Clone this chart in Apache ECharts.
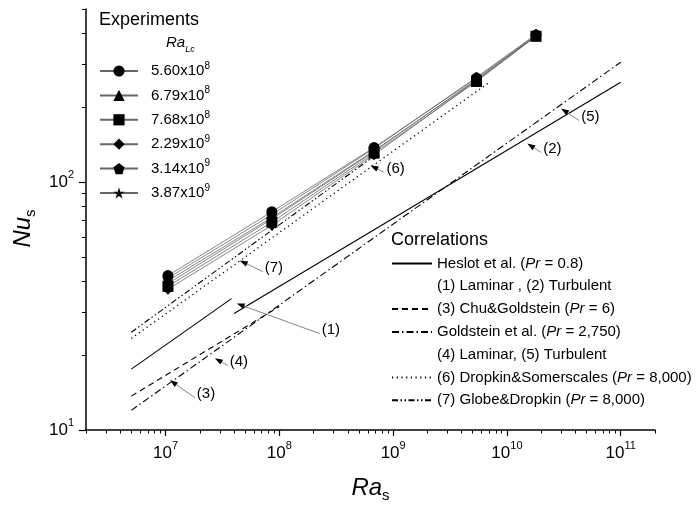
<!DOCTYPE html>
<html><head><meta charset="utf-8">
<script src="https://cdn.jsdelivr.net/npm/echarts@6/dist/echarts.min.js"></script>
<style>html,body{margin:0;padding:0;background:#fff}#c{width:700px;height:510px}</style>
</head><body><div id="c"></div>
<script>
// ---------- data ----------
const raS = [1.05e7, 8.6e7, 6.8e8, 5.4e9, 1.8e10];
const expLabels = ['5.60x10^8','6.79x10^8','7.68x10^8','2.29x10^9','3.14x10^9','3.87x10^9'];
const nuCircle   = [42, 76, 138, 263, 392];
const nuTriangle = [40, 72, 134, 258, 390];
const nuSquare   = [38, 69, 131, 255, 388];
const nuDiamond  = [37, 67, 129, 257, 389];
const nuPentagon = [41, 74, 137, 265, 395];
const nuStar     = [39, 71, 133, 260, 390];

const heslotRa = [5e6, 3.8e7, 3.9e7, 4e7, 1e11];
const heslotNu = [17.6, 33.9, null, 29.5, 253];
const chuRa = [5e6, 1e8];
const chuNu = [13.7, 31.5];
const goldRa = [5e6, 1e11];
const goldNu = [12.0, 305];
const dropRa = [5e6, 7e9];
const dropNu = [23.4, 253];
const globeRa = [5e6, 7e8];
const globeNu = [24.8, 128.7];

const corrLabels = ['Heslot et al. (Pr = 0.8)', '(1) Laminar , (2) Turbulent', '(3) Chu&Goldstein (Pr = 6)',
  'Goldstein et al. (Pr = 2,750)', '(4) Laminar, (5) Turbulent', '(6) Dropkin&Somerscales (Pr = 8,000)',
  '(7) Globe&Dropkin (Pr = 8,000)'];

// annotations: [label-end Ra, label-end Nu, arrow-tip Ra, arrow-tip Nu]
const annoText = ['(1)','(2)','(3)','(4)','(5)','(6)','(7)'];
const annoPts = [
  [2.26e8, 24.5, 4.22e7, 32.4],
  [2.0e10, 131.8, 1.51e10, 143.2],
  [1.81e7, 13.5, 1.09e7, 15.9],
  [3.52e7, 18.2, 2.71e7, 19.5],
  [4.31e10, 177.4, 2.99e10, 198.3],
  [8.39e8, 109.4, 6.32e8, 116.8],
  [7.14e7, 43.6, 4.49e7, 48.3]
];

const xMajor = [1e7, 1e8, 1e9, 1e10, 1e11];
const yMajor = [10, 100];
const xMinor = [2e6,3e6,4e6,5e6,6e6,7e6,8e6,9e6, 2e7,3e7,4e7,5e7,6e7,7e7,8e7,9e7, 2e8,3e8,4e8,5e8,6e8,7e8,8e8,9e8,
  2e9,3e9,4e9,5e9,6e9,7e9,8e9,9e9, 2e10,3e10,4e10,5e10,6e10,7e10,8e10,9e10, 2e11];
const yMinor = [20,30,40,50,60,70,80,90,200,300,400,500];

// ---------- chart ----------
const FONT = '"Liberation Sans", Arial, sans-serif';
const pentagon = 'path://M50,0 L97.6,34.5 L79.4,90.5 L20.6,90.5 L2.4,34.5 Z';
const star = 'path://M50,0 L61.8,36.2 L100,36.2 L69.1,58.8 L80.9,95.1 L50,72.6 L19.1,95.1 L30.9,58.8 L0,36.2 L38.2,36.2 Z';
const expSeriesNu = [nuCircle, nuTriangle, nuSquare, nuDiamond, nuPentagon, nuStar];
const expSymbols = ['circle', 'triangle', 'rect', 'diamond', pentagon, star];

function zip(a, b) { return a.map((v, i) => [v, b[i] == null ? '-' : b[i]]); }
function powLabel(v) {
  const l = Math.log10(v), e = Math.round(l);
  return Math.abs(l - e) < 1e-6 ? '10{sup|' + e + '}' : '';
}
const supRich = { sup: { fontSize: 11, lineHeight: 12, verticalAlign: 'top', fontFamily: FONT, color: '#000' } };

const series = [];
expSeriesNu.forEach((nu, i) => {
  series.push({
    name: expLabels[i], type: 'line', data: zip(raS, nu), symbol: expSymbols[i], symbolSize: 11,
    itemStyle: { color: '#000' }, lineStyle: { color: '#666', width: 0.8 }, z: 5, silent: true
  });
});
function corr(name, ra, nu, type, width) {
  return { name, type: 'line', data: zip(ra, nu), symbol: 'none', connectNulls: false,
    lineStyle: { color: '#000', width: width || 1.1, type }, itemStyle: { color: '#000', opacity: 0 }, silent: true, z: 3 };
}
series.push(corr(corrLabels[0], heslotRa, heslotNu, 'solid'));
series.push(corr(corrLabels[2], chuRa, chuNu, [6, 4]));
series.push(corr(corrLabels[3], goldRa, goldNu, [7, 3, 1.5, 3]));
series.push(corr(corrLabels[5], dropRa, dropNu, [1.2, 3.5], 1.3));
series.push(corr(corrLabels[6], globeRa, globeNu, [6, 2.5, 1.5, 2.5, 1.5, 2.5]));
series.push({ name: corrLabels[1], type: 'line', data: [] });
series.push({ name: corrLabels[4], type: 'line', data: [] });

series.push({
  type: 'custom', silent: true, z: 4,
  data: annoPts.map((p, i) => p.concat([i])),
  renderItem: function (params, api) {
    const p = api.coord([api.value(0), api.value(1)]);
    const t = api.coord([api.value(2), api.value(3)]);
    const ang = Math.atan2(t[1] - p[1], t[0] - p[0]);
    const L = 8, W = 2.8;
    const bx = t[0] - L * Math.cos(ang), by = t[1] - L * Math.sin(ang);
    const nx = -Math.sin(ang) * W, ny = Math.cos(ang) * W;
    return { type: 'group', children: [
      { type: 'line', shape: { x1: p[0], y1: p[1], x2: bx, y2: by }, style: { stroke: '#777', lineWidth: 0.9 } },
      { type: 'polygon', shape: { points: [[t[0], t[1]], [bx + nx, by + ny], [bx - nx, by - ny]] }, style: { fill: '#000' } },
      { type: 'text', x: p[0] + 2, y: p[1] - 4, style: { text: annoText[api.value(4)], font: '15px ' + FONT, fill: '#000', align: 'left', verticalAlign: 'middle' } }
    ] };
  }
});

function lineOnlyItem(n) { return { name: n, itemStyle: { opacity: 0 } }; }
function blankLegendItem(n) { return { name: n, itemStyle: { opacity: 0 }, lineStyle: { opacity: 0 } }; }

const option = {
  animation: false,
  backgroundColor: '#fff',
  title: [
    { text: 'Experiments', left: 99, top: 11, padding: 0, textStyle: { fontFamily: FONT, fontSize: 18, fontWeight: 'normal', color: '#000' } },
    { text: '{i|Ra}{sub|Lc}', left: 166, top: 32, padding: 0,
      textStyle: { fontFamily: FONT, fontSize: 15, fontWeight: 'normal', color: '#000',
        rich: { i: { fontFamily: FONT, fontSize: 15, fontStyle: 'italic', lineHeight: 22 },
                sub: { fontFamily: FONT, fontSize: 9, fontStyle: 'italic', lineHeight: 10, verticalAlign: 'bottom' } } } },
    { text: 'Correlations', left: 391, top: 231, padding: 0, textStyle: { fontFamily: FONT, fontSize: 18, fontWeight: 'normal', color: '#000' } }
  ],
  legend: [
    { data: expLabels, orient: 'vertical', left: 99, top: 61, padding: 0, itemWidth: 38, itemHeight: 14, itemGap: 4.4,
      selectedMode: false,
      formatter: n => n.replace(/\^(\d+)/, '{sup|$1}'),
      textStyle: { fontFamily: FONT, fontSize: 15, color: '#000', lineHeight: 20, padding: [0, 0, 0, 8],
        rich: { sup: { fontSize: 10, lineHeight: 10, verticalAlign: 'top', fontFamily: FONT, color: '#000' } } } },
    { data: [lineOnlyItem(corrLabels[0]), blankLegendItem(corrLabels[1]), lineOnlyItem(corrLabels[2]), lineOnlyItem(corrLabels[3]),
             blankLegendItem(corrLabels[4]), lineOnlyItem(corrLabels[5]), lineOnlyItem(corrLabels[6])],
      orient: 'vertical', left: 391, top: 256, padding: 0, itemWidth: 40, itemHeight: 14, itemGap: 7.8,
      selectedMode: false,
      formatter: n => n.replace(/\(Pr /, '({it|Pr} '),
      textStyle: { fontFamily: FONT, fontSize: 15, color: '#000', padding: 0,
        rich: { it: { fontStyle: 'italic', fontFamily: FONT, fontSize: 15, color: '#000' } } } }
  ],
  grid: { left: 86, right: 45, top: 9, bottom: 80 },
  xAxis: [
    { type: 'log', logBase: 10, min: 2e6, max: 2e11,
      name: '{i|Ra}{sub|s}', nameLocation: 'middle', nameGap: 43,
      nameTextStyle: { rich: { i: { fontFamily: FONT, fontSize: 24, fontStyle: 'italic', lineHeight: 30, color: '#000' },
                               sub: { fontFamily: FONT, fontSize: 15, lineHeight: 14, verticalAlign: 'bottom', color: '#000' } } },
      axisLine: { show: true, lineStyle: { color: '#000', width: 1.5 } },
      axisTick: { show: true, length: 6, customValues: xMajor, lineStyle: { color: '#000', width: 1.2 } },
      axisLabel: { customValues: xMajor, formatter: powLabel, fontFamily: FONT, fontSize: 17, color: '#000', lineHeight: 26, margin: 10, rich: supRich },
      splitLine: { show: false } },
    { type: 'log', logBase: 10, min: 2e6, max: 2e11, position: 'bottom', gridIndex: 0,
      axisLine: { show: false }, axisLabel: { show: false }, splitLine: { show: false },
      axisTick: { show: true, length: 3.5, customValues: xMinor, lineStyle: { color: '#000', width: 1 } } }
  ],
  yAxis: [
    { type: 'log', logBase: 10, min: 10, max: 500,
      name: '{i|Nu}{sub|s}', nameLocation: 'middle', nameGap: 48, nameRotate: 90,
      nameTextStyle: { padding: [0, 18, 0, 0], rich: { i: { fontFamily: FONT, fontSize: 24, fontStyle: 'italic', lineHeight: 30, color: '#000' },
                               sub: { fontFamily: FONT, fontSize: 15, lineHeight: 14, verticalAlign: 'bottom', color: '#000' } } },
      axisLine: { show: true, lineStyle: { color: '#000', width: 1.5 } },
      axisTick: { show: true, length: 7, customValues: yMajor, lineStyle: { color: '#000', width: 1.2 } },
      axisLabel: { customValues: yMajor, formatter: powLabel, fontFamily: FONT, fontSize: 17, color: '#000', lineHeight: 26, margin: 12, rich: supRich },
      splitLine: { show: false } },
    { type: 'log', logBase: 10, min: 10, max: 500, position: 'left', gridIndex: 0,
      axisLine: { show: false }, axisLabel: { show: false }, splitLine: { show: false },
      axisTick: { show: true, length: 4, customValues: yMinor, lineStyle: { color: '#000', width: 1 } } }
  ],
  series
};
const chart = echarts.init(document.getElementById('c'), null, { renderer: 'canvas' });
chart.setOption(option);
</script></body></html>
